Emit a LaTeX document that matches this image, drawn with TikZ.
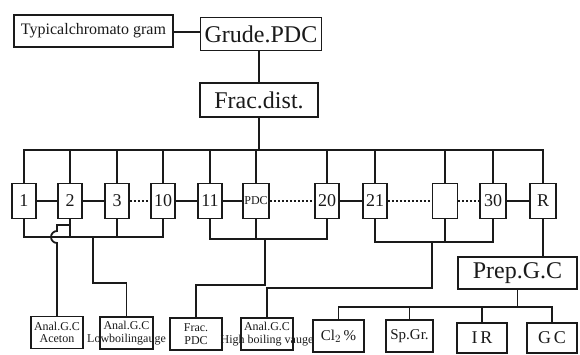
\documentclass[tikz,border=0pt]{standalone}
\usepackage{fontspec}
\setmainfont{Liberation Serif}
\usetikzlibrary{positioning,calc}
\definecolor{ink}{HTML}{1A1A1A}
\tikzset{
  base/.style={draw=ink,line width=1.5pt,fill=white,inner sep=2pt,align=center,text=ink},
  headbox/.style={base,font=\fontsize{24}{26}\selectfont,minimum height=33pt},
  numbox/.style={base,font=\fontsize{18}{20}\selectfont,minimum width=24pt,minimum height=35pt,inner sep=1pt},
  smallbox/.style={base,font=\fontsize{12}{12.5}\selectfont,minimum width=52pt,minimum height=32pt,inner sep=1pt},
  testbox/.style={base,font=\fontsize{15}{17}\selectfont,minimum width=50pt,minimum height=32pt},
  link/.style={draw=ink,line width=1.8pt},
  gap/.style={link,dash pattern=on 2pt off 2pt}
}

\begin{document}
\begin{tikzpicture}[x=1pt,y=-1pt]
\useasboundingbox (0,0) rectangle (580,354);

% top part
\node[base,font=\fontsize{16}{18}\selectfont,minimum width=159pt,minimum height=32pt] (typical) at (93.5,31) {Typicalchromato gram};
\node[headbox,minimum width=121pt] (grude) at (261,34) {Grude.PDC};
\node[headbox,minimum width=118pt,minimum height=34pt] (fracdist) at (259,100) {Frac.dist.};

% fractions
\node[numbox] (f1) at (24,201) {1};
\node[numbox] (f2) at (70,201) {2};
\node[numbox] (f3) at (117,201) {3};
\node[numbox] (f10) at (163,201) {10};
\node[numbox] (f11) at (210,201) {11};
\node[numbox,minimum width=26pt,font=\fontsize{12}{13}\selectfont] (fpdc) at (256,201) {PDC};
\node[numbox] (f20) at (327,201) {20};
\node[numbox] (f21) at (375,201) {21};
\node[numbox,minimum width=25pt] (fx) at (445,201) {};
\node[numbox,minimum width=26pt] (f30) at (493,201) {30};
\node[numbox,minimum width=26pt] (fr) at (543,201) {R};

% analyses
\node[smallbox] (aceton) at (57,332.5) {Anal.G.C\\Aceton};
\node[smallbox,minimum width=53pt] (lowb) at (126.5,333) {Anal.G.C\\\makebox[0pt]{Lowboilingauge}};
\node[smallbox] (fracpdc) at (196,334) {Frac.\\PDC};
\node[smallbox] (highb) at (267,334) {Anal.G.C\\\makebox[0pt]{High boiling vauge}};
\node[headbox,minimum width=119pt,minimum height=32pt] (prep) at (517.5,273) {Prep.G.C};
\node[testbox,minimum width=51pt] (cl) at (338.5,336) {Cl$_2$\,\%};
\node[testbox,minimum width=47pt] (spgr) at (409.5,336) {Sp.Gr.};
\node[testbox,minimum height=30pt,font=\fontsize{18}{20}\selectfont] (ir) at (482,338) {I\,R};
\node[testbox,minimum height=30pt,font=\fontsize{18}{20}\selectfont] (gc) at (552,338) {G\,C};

% bus levels
\coordinate (tb) at (0,150);
\coordinate (ba) at (0,237);
\coordinate (bb) at (0,239);
\coordinate (bc) at (0,242);
\coordinate (bd) at (0,307);
\coordinate (acejog) at (57,225);
\coordinate (hop) at (57,237);
\coordinate (lowjog) at (93,283);
\coordinate (pdcjog) at (265,285);
\coordinate (highjog) at (432,288);

\draw[link] (typical.east |- 0,32) -- (grude.west |- 0,32);
\draw[link] (grude.south -| fracdist.north) -- (fracdist.north);
\draw[link] (fracdist.south) -- (fracdist.south |- tb);
\draw[link] (f1.north) -- (f1.north |- tb) -- (fr.north |- tb) -- (fr.north);
\foreach \n in {f2,f3,f10,f11,fpdc,f20,f21,fx,f30}
  \draw[link] (\n.north) -- (\n.north |- tb);

\draw[link] (f1) -- (f2);
\draw[link] (f2) -- (f3);
\draw[gap] (f3) -- (f10);
\draw[link] (f10) -- (f11);
\draw[link] (f11) -- (fpdc);
\draw[gap] (fpdc) -- (f20);
\draw[link] (f20) -- (f21);
\draw[gap] (f21) -- (fx);
\draw[gap] (fx) -- (f30);
\draw[link] (f30) -- (fr);

% low boiling group
\draw[link] (f1.south) -- (f1.south |- ba) -- (f10.south |- ba) -- (f10.south);
\foreach \n in {f2,f3}
  \draw[link] (\n.south) -- (\n.south |- ba);
\draw[link] (f2.south |- acejog) -- (acejog) -- ([yshift=6pt]hop)
  arc[start angle=90,end angle=270,radius=6pt] -- (aceton.north);
\draw[link] (lowjog |- ba) -- (lowjog) -| (lowb.north);

% middle group
\draw[link] (f11.south) -- (f11.south |- bb) -- (f20.south |- bb) -- (f20.south);
\draw[link] (fpdc.south) -- (fpdc.south |- bb);
\draw[link] (pdcjog |- bb) -- (pdcjog) -| (fracpdc.north);

% high boiling group
\draw[link] (f21.south) -- (f21.south |- bc) -- (f30.south |- bc) -- (f30.south);
\draw[link] (fx.south) -- (fx.south |- bc);
\draw[link] (highjog |- bc) -- (highjog) -| (highb.north);

% residue
\draw[link] (fr.south) -- (fr.south |- prep.north);
\draw[link] (prep.south) -- (prep.south |- bd);
\draw[link] (cl.north) -- (cl.north |- bd) -- (gc.north |- bd) -- (gc.north);
\foreach \n in {spgr,ir}
  \draw[link] (\n.north) -- (\n.north |- bd);
\end{tikzpicture}
\end{document}
